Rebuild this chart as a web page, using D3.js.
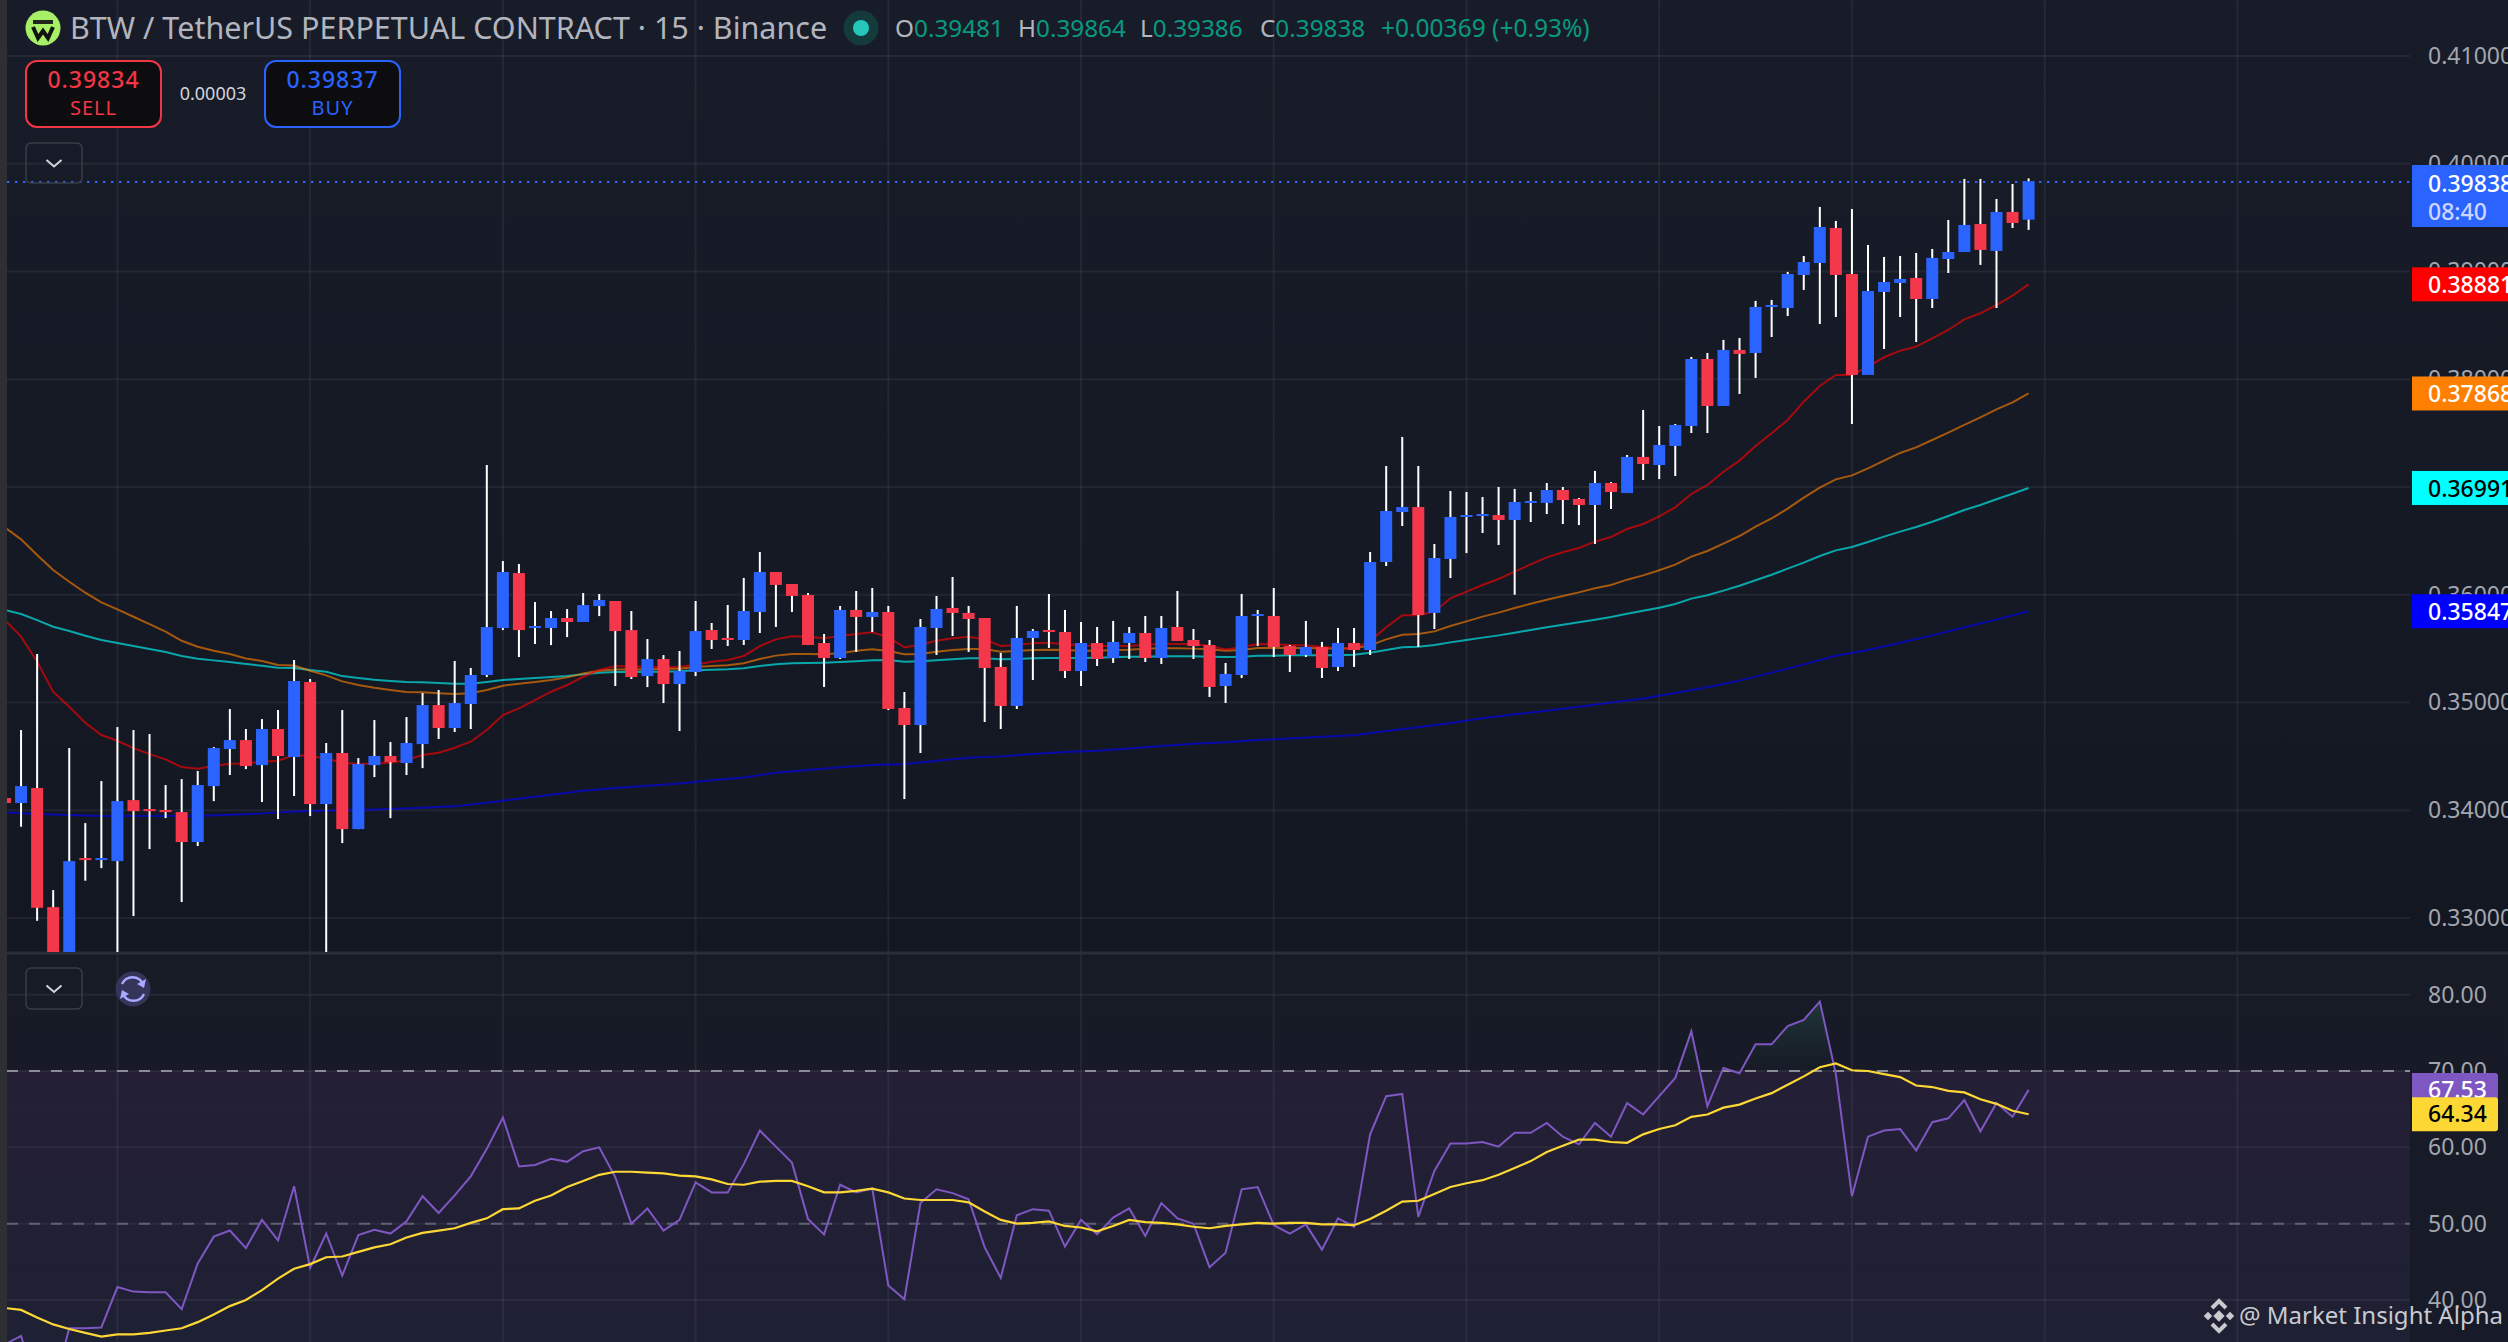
<!DOCTYPE html>
<html>
<head>
<meta charset="utf-8">
<title>BTW / TetherUS 15m</title>
<script src="https://cdn.jsdelivr.net/npm/d3@7"></script>
<style>
    html, body { margin: 0; padding: 0; background: #131722; overflow: hidden; }
    svg { display: block; font-family: "Noto Sans", sans-serif; }
</style>
</head>
<body>
<script>
// candles, oldest first
const opens = [.34113,.34067,.34206,.33101,.3260,.33556,.33538,.33528,.34094,.34011,.34002,.33983,.33705,.34224,.34568,.34651,.34419,.34754,.34494,.35190,.34057,.34531,.33825,.34419,.34503,.34438,.34614,.34976,.34763,.34986,.35255,.35691,.36201,.35691,.35691,.35784,.35747,.35895,.35942,.35672,.35245,.35403,.35171,.35283,.35673,.35599,.35580,.35840,.36211,.36100,.35998,.35552,.35413,.35859,.35794,.35840,.34949,.34791,.35692,.35877,.35831,.35784,.35330,.34968,.35599,.35673,.35654,.35292,.35552,.35413,.35552,.35645,.35413,.35701,.35580,.35534,.35153,.35255,.35803,.35803,.35524,.35441,.35515,.35330,.35552,.35487,.36304,.36768,.36814,.35831,.36332,.36722,.36731,.36740,.36694,.36852,.36852,.36972,.36889,.36833,.37037,.36944,.37279,.37204,.37381,.37566,.38188,.37752,.38272,.38244,.38671,.38661,.38968,.39079,.39404,.38977,.38040,.38810,.38894,.38940,.38745,.39116,.39181,.39441,.39191,.39553,.39481];
const closes = [.34067,.34224,.33095,.3250,.33528,.33538,.33556,.34085,.33992,.33992,.33983,.33705,.34234,.34577,.34651,.34410,.34754,.34503,.35199,.34057,.34531,.33825,.34429,.34503,.34447,.34624,.34976,.34763,.34995,.35255,.35700,.36211,.35672,.35710,.35784,.35747,.35904,.35951,.35663,.35236,.35403,.35171,.35292,.35663,.35580,.35580,.35849,.36211,.36091,.35989,.35534,.35413,.35859,.35794,.35840,.34940,.34791,.35701,.35868,.35831,.35775,.35320,.34968,.35599,.35664,.35654,.35292,.35552,.35404,.35562,.35645,.35413,.35692,.35571,.35524,.35144,.35265,.35803,.35821,.35515,.35441,.35515,.35320,.35552,.35487,.36304,.36777,.36814,.35812,.36341,.36722,.36740,.36749,.36694,.36861,.36870,.36972,.36879,.36833,.37037,.36954,.37279,.37214,.37390,.37576,.38188,.37752,.38272,.38235,.38671,.38689,.38977,.39088,.39413,.38968,.38040,.38819,.38903,.38931,.38745,.39126,.39181,.39432,.39200,.39553,.39450,.39838];
const highs = [.3415,.34744,.35450,.33259,.34577,.33881,.34271,.34772,.34744,.34707,.34234,.34289,.34364,.34586,.34939,.34754,.34846,.34930,.35394,.35218,.34624,.34930,.34484,.34837,.34633,.34865,.35088,.35116,.35385,.35320,.37204,.36313,.36285,.35932,.35849,.35867,.36016,.36007,.35942,.35849,.35589,.35440,.35478,.35942,.35738,.35905,.36156,.36397,.36211,.36100,.36016,.35636,.35896,.36035,.36063,.35896,.35097,.35775,.35989,.36165,.35896,.35784,.35460,.35896,.35682,.36007,.35859,.35747,.35701,.35757,.35701,.35803,.35803,.36035,.35682,.35580,.35367,.36007,.35859,.36063,.35534,.35757,.35562,.35692,.35692,.36397,.37195,.37464,.37195,.36471,.36963,.36954,.36907,.37000,.36982,.36954,.37037,.37000,.36898,.37149,.37046,.37297,.37715,.37566,.37585,.38207,.38244,.38365,.38383,.38727,.38736,.38996,.39144,.39599,.39469,.39580,.39246,.39135,.39144,.39172,.39209,.39478,.39859,.39859,.39673,.39812,.39864];
const lows = [.3400,.33847,.32974,.3230,.3240,.33346,.33463,.3240,.33018,.33640,.33927,.33148,.33668,.34085,.34327,.34382,.34076,.33918,.34132,.33946,.3240,.33695,.33825,.34308,.33927,.34327,.34391,.34661,.34726,.34754,.35236,.35672,.35422,.35543,.35533,.35607,.35747,.35802,.35153,.35218,.35143,.34995,.34735,.35245,.35497,.35524,.35534,.35645,.35701,.35840,.35534,.35144,.35404,.35469,.35654,.34930,.34104,.34531,.35441,.35617,.35469,.34819,.34754,.34940,.35209,.35506,.35227,.35153,.35339,.35367,.35404,.35376,.35357,.35571,.35404,.35051,.34995,.35227,.35524,.35422,.35283,.35422,.35227,.35292,.35330,.35441,.36267,.36638,.35515,.35682,.36155,.36387,.36573,.36462,.36000,.36675,.36749,.36657,.36647,.36471,.36796,.36944,.37065,.37074,.37102,.37501,.37501,.37752,.37863,.38012,.38392,.38587,.38829,.38513,.38578,.37585,.38281,.38281,.38578,.38346,.38661,.38986,.39181,.39061,.38661,.39404,.39386];

// moving averages, one value per bar
const emaRed = [.35765,.35611,.35379,.35100,.34961,.34812,.34698,.34645,.34577,.34521,.34472,.34401,.34385,.34410,.34432,.34435,.34450,.34460,.34512,.34503,.34481,.34441,.34429,.34435,.34441,.34466,.34512,.34534,.34580,.34636,.34744,.34884,.34945,.35023,.35100,.35162,.35239,.35301,.35338,.35332,.35332,.35326,.35332,.35350,.35379,.35395,.35432,.35524,.35586,.35614,.35611,.35596,.35617,.35636,.35651,.35605,.35512,.35534,.35574,.35596,.35611,.35586,.35524,.35534,.35549,.35555,.35540,.35531,.35524,.35524,.35524,.35537,.35543,.35543,.35543,.35524,.35493,.35512,.35543,.35540,.35534,.35528,.35518,.35503,.35503,.35570,.35698,.35809,.35809,.35843,.35967,.36029,.36090,.36146,.36214,.36282,.36347,.36394,.36434,.36493,.36536,.36610,.36657,.36728,.36811,.36935,.37019,.37142,.37245,.37381,.37498,.37622,.37792,.37937,.38040,.38040,.38117,.38204,.38265,.38303,.38380,.38457,.38556,.38612,.38689,.38776,.38881];
const emaOrange = [.36625,.36514,.36369,.36229,.36121,.36019,.35929,.35864,.35796,.35728,.35657,.35573,.35518,.35481,.35450,.35409,.35385,.35348,.35344,.35295,.35252,.35196,.35162,.35137,.35116,.35097,.35094,.35085,.35078,.35085,.35116,.35156,.35174,.35190,.35208,.35233,.35270,.35295,.35307,.35307,.35307,.35313,.35313,.35330,.35339,.35345,.35364,.35404,.35435,.35450,.35450,.35447,.35456,.35481,.35494,.35478,.35447,.35450,.35472,.35487,.35497,.35497,.35472,.35478,.35487,.35490,.35487,.35481,.35481,.35487,.35490,.35500,.35503,.35503,.35500,.35494,.35481,.35487,.35506,.35506,.35506,.35506,.35503,.35500,.35503,.35530,.35586,.35629,.35636,.35660,.35710,.35753,.35797,.35834,.35877,.35917,.35954,.35988,.36022,.36060,.36090,.36140,.36180,.36227,.36279,.36354,.36406,.36474,.36545,.36632,.36709,.36799,.36901,.36994,.37071,.37108,.37173,.37245,.37316,.37368,.37436,.37504,.37576,.37647,.37721,.37786,.37868];
const emaTeal = [.35858,.35821,.35765,.35703,.35663,.35620,.35580,.35552,.35524,.35496,.35468,.35431,.35406,.35391,.35375,.35357,.35341,.35323,.35320,.35301,.35286,.35245,.35227,.35211,.35199,.35190,.35187,.35180,.35174,.35174,.35190,.35208,.35218,.35227,.35236,.35245,.35261,.35276,.35283,.35283,.35286,.35286,.35289,.35300,.35305,.35308,.35317,.35339,.35354,.35364,.35367,.35370,.35376,.35382,.35391,.35394,.35379,.35382,.35391,.35401,.35410,.35410,.35401,.35404,.35410,.35413,.35413,.35413,.35416,.35419,.35425,.35425,.35429,.35429,.35429,.35425,.35422,.35425,.35435,.35435,.35438,.35438,.35438,.35438,.35444,.35462,.35487,.35512,.35518,.35534,.35558,.35580,.35602,.35623,.35648,.35673,.35698,.35722,.35744,.35769,.35793,.35824,.35852,.35880,.35914,.35964,.35995,.36038,.36084,.36134,.36186,.36242,.36298,.36360,.36412,.36443,.36490,.36539,.36586,.36629,.36678,.36731,.36787,.36833,.36886,.36938,.36991];
// slow average read every second bar
const emaNavyBars = d3.range(0, 127, 2);
const emaNavy = [.33980,.33965,.33955,.33946,.33946,.33946,.33946,.33958,.33971,.33989,.33995,.34002,.34011,.34023,.34036,.34070,.34107,.34144,.34181,.34206,.34228,.34249,.34278,.34305,.34349,.34373,.34398,.34420,.34429,.34460,.34488,.34500,.34522,.34541,.34553,.34572,.34596,.34618,.34630,.34652,.34667,.34683,.34695,.34735,.34770,.34810,.34853,.34890,.34924,.34961,.35001,.35038,.35088,.35141,.35203,.35277,.35354,.35434,.35487,.35555,.35623,.35698,.35769,.35847];

const rsiValues = [34.2,35.3,28.4,28.3,36.3,36.3,36.4,41.7,41.1,41.0,41.0,38.8,44.8,48.3,49.1,46.8,50.5,47.8,54.9,44.2,48.7,43.2,48.5,49.2,48.7,50.3,53.6,51.4,53.7,56.2,59.8,63.9,57.5,57.7,58.5,58.1,59.5,60.0,56.1,50.0,52.0,49.1,50.5,55.4,54.1,54.1,57.8,62.2,60.1,58.0,50.6,48.6,55.1,54.1,54.6,41.9,40.1,52.7,54.5,54.0,53.2,46.9,42.9,51.1,51.9,51.7,47.0,50.5,48.6,50.8,52.0,48.4,52.7,50.7,50.0,44.3,46.2,54.5,54.8,49.8,48.7,49.9,46.6,50.7,49.6,61.7,66.7,67.0,50.9,56.9,60.5,60.5,60.7,60.1,61.9,61.9,63.2,61.4,60.4,63.2,61.4,65.8,64.3,66.7,69.1,75.2,65.4,70.4,69.7,73.5,73.5,75.9,76.7,79.1,69.6,53.6,61.4,62.2,62.4,59.6,63.3,63.8,66.2,62.1,65.8,64.0,67.53];
const rsiMa = [38.95,38.7,37.7,36.8,36.2,35.7,35.2,35.5,35.5,35.7,36.0,36.3,37.1,38.1,39.2,40.0,41.3,42.8,44.1,44.7,45.6,45.7,46.3,46.9,47.3,48.2,48.8,49.1,49.4,50.1,50.7,51.9,52.0,53.0,53.7,54.8,55.6,56.4,56.8,56.8,56.7,56.6,56.3,56.2,55.8,55.2,55.1,55.5,55.6,55.6,54.9,54.1,54.1,54.3,54.6,54.1,53.3,53.1,53.1,53.1,52.8,51.6,50.5,50.0,50.1,50.3,49.7,49.5,49.0,49.7,50.5,50.2,50.1,49.9,49.6,49.4,49.7,49.9,50.1,50.0,50.1,50.1,49.9,49.9,49.8,50.6,51.7,52.9,53.0,53.9,54.8,55.3,55.7,56.4,57.3,58.2,59.4,60.2,61.0,61.0,60.7,60.6,61.7,62.4,62.9,64.0,64.3,65.2,65.6,66.4,67.1,68.2,69.3,70.5,71.0,70.1,70.0,69.6,69.2,68.1,67.9,67.4,67.2,66.3,65.7,64.8,64.34];

const priceTicks = [0.33, 0.34, 0.35, 0.36, 0.37, 0.38, 0.39, 0.40, 0.41];
const rsiTicks = [40, 50, 60, 70, 80];
const gridBars = d3.range(7, 140, 12);

const priceTags = [
    { value: 0.38881, text: '0.38881', bg: '#ff0000', fg: '#ffffff' },
    { value: 0.37868, text: '0.37868', bg: '#ff8000', fg: '#ffffff' },
    { value: 0.36991, text: '0.36991', bg: '#00ffff', fg: '#000000' },
    { value: 0.35847, text: '0.35847', bg: '#0000ff', fg: '#ffffff' }
];
const legendOHLC = [
    { key: 'O', value: '0.39481', x: 895 },
    { key: 'H', value: '0.39864', x: 1018 },
    { key: 'L', value: '0.39386', x: 1140 },
    { key: 'C', value: '0.39838', x: 1260 }
];

const W = 2508, H = 1342;
const plotLeft = 7, plotRight = 2410, paneSplit = 953;
const bull = '#2b63ff', bear = '#f5374b';

const x = d3.scaleLinear().domain([0, 126]).range([5, 2028.6]);
const y = d3.scaleLinear().domain([0.33, 0.41]).range([918, 56]);
const yRsi = d3.scaleLinear().domain([40, 80]).range([1300, 994.7]);

const svg = d3.select('body').append('svg').attr('width', W).attr('height', H);
const defs = svg.append('defs');

function vGradient(id, stops, box) {
    const g = defs.append('linearGradient').attr('id', id)
        .attr('x1', 0).attr('x2', 0);
    if (box) {
        g.attr('gradientUnits', 'userSpaceOnUse').attr('y1', box[0]).attr('y2', box[1]);
    } else {
        g.attr('y1', 0).attr('y2', 1);
    }
    stops.forEach(s => g.append('stop').attr('offset', s[0]).attr('stop-color', s[1]).attr('stop-opacity', s[2]));
}
vGradient('mainBg', [[0, '#181c28', 1], [1, '#131722', 1]]);
vGradient('rsiBg', [[0, '#171b26', 1], [1, '#171a28', 1]]);
vGradient('bandBg', [[0, '#241f36', 1], [1, '#1e2033', 1]]);
// overbought tint fades out towards the 70 line
vGradient('obFill', [[0, '#2a5a50', 0.55], [1, '#1f3a3a', 0.02]], [yRsi(80), yRsi(70)]);

defs.append('clipPath').attr('id', 'mainClip').append('rect')
    .attr('x', plotLeft).attr('y', 0).attr('width', plotRight - plotLeft).attr('height', paneSplit - 1);
defs.append('clipPath').attr('id', 'rsiClip').append('rect')
    .attr('x', plotLeft).attr('y', paneSplit + 1).attr('width', plotRight - plotLeft).attr('height', H - paneSplit);
defs.append('clipPath').attr('id', 'obClip').append('rect')
    .attr('x', plotLeft).attr('y', paneSplit).attr('width', plotRight - plotLeft).attr('height', yRsi(70) - paneSplit);

// backgrounds
svg.append('rect').attr('width', W).attr('height', paneSplit).attr('fill', 'url(#mainBg)');
svg.append('rect').attr('y', paneSplit).attr('width', W).attr('height', H - paneSplit).attr('fill', 'url(#rsiBg)');
svg.append('rect').attr('x', plotLeft).attr('y', yRsi(70)).attr('width', plotRight - plotLeft)
    .attr('height', H - yRsi(70)).attr('fill', 'url(#bandBg)');
svg.append('rect').attr('width', plotLeft).attr('height', H).attr('fill', '#2e2f33');

// grid
const gridColor = 'rgba(120,123,134,0.14)';
const grid = svg.append('g').attr('stroke', gridColor).attr('stroke-width', 2);
grid.selectAll('.gv').data(gridBars).join('line')
    .attr('x1', d => x(d)).attr('x2', d => x(d)).attr('y1', 0).attr('y2', H);
grid.selectAll('.gp').data(priceTicks).join('line')
    .attr('x1', plotLeft).attr('x2', plotRight).attr('y1', d => y(d)).attr('y2', d => y(d));
grid.selectAll('.gr').data(rsiTicks).join('line')
    .attr('x1', plotLeft).attr('x2', plotRight).attr('y1', d => yRsi(d)).attr('y2', d => yRsi(d));
svg.append('line').attr('x1', plotLeft).attr('x2', W).attr('y1', paneSplit).attr('y2', paneSplit)
    .attr('stroke', '#2a2e39').attr('stroke-width', 3);

// moving averages sit under the candles
const main = svg.append('g').attr('clip-path', 'url(#mainClip)');
const priceLine = d3.line().x(d => x(d[0])).y(d => y(d[1]));
const emaSeries = [
    { bars: emaNavyBars, values: emaNavy, color: '#0000ff' },
    { bars: d3.range(127), values: emaTeal, color: '#00ffff' },
    { bars: d3.range(127), values: emaOrange, color: '#ff8000' },
    { bars: d3.range(127), values: emaRed, color: '#ff0000' }
];
emaSeries.forEach(s => {
    main.append('path')
        .attr('d', priceLine(s.bars.map((b, k) => [b, s.values[k]])))
        .attr('fill', 'none').attr('stroke', s.color)
        .attr('stroke-opacity', 0.62).attr('stroke-width', 2);
});

// candles
const bars = d3.range(opens.length);
main.append('g').selectAll('rect').data(bars).join('rect')
    .attr('x', i => x(i) - 1).attr('width', 2)
    .attr('y', i => y(highs[i])).attr('height', i => y(lows[i]) - y(highs[i]))
    .attr('fill', '#ffffff');
main.append('g').selectAll('rect').data(bars).join('rect')
    .attr('x', i => x(i) - 6).attr('width', 12)
    .attr('y', i => y(Math.max(opens[i], closes[i])))
    .attr('height', i => Math.max(2, Math.abs(y(opens[i]) - y(closes[i]))))
    .attr('fill', i => closes[i] >= opens[i] ? bull : bear);

// last price line
svg.append('line').attr('x1', plotLeft).attr('x2', plotRight)
    .attr('y1', y(0.39831)).attr('y2', y(0.39831))
    .attr('stroke', bull).attr('stroke-width', 2).attr('stroke-dasharray', '2.5,5.5');

// rsi pane
const rsiPane = svg.append('g').attr('clip-path', 'url(#rsiClip)');
const rsiLine = d3.line().x((d, i) => x(i)).y(d => yRsi(d));
const rsiArea = d3.area().x((d, i) => x(i)).y0(yRsi(70)).y1(d => yRsi(d));
rsiPane.append('path').datum(rsiValues).attr('d', rsiArea)
    .attr('clip-path', 'url(#obClip)').attr('fill', 'url(#obFill)');
[{ v: 70, c: '#8b8c96' }, { v: 50, c: '#5f6072' }].forEach(l => {
    rsiPane.append('line').attr('x1', plotLeft).attr('x2', plotRight)
        .attr('y1', yRsi(l.v)).attr('y2', yRsi(l.v))
        .attr('stroke', l.c).attr('stroke-width', 2).attr('stroke-dasharray', '11,11');
});
rsiPane.append('path').datum(rsiValues).attr('d', rsiLine)
    .attr('fill', 'none').attr('stroke', '#7e57c2').attr('stroke-width', 2);
rsiPane.append('path').datum(rsiMa).attr('d', rsiLine)
    .attr('fill', 'none').attr('stroke', '#fdd835').attr('stroke-width', 2.2);

// axes
function styleAxis(g) {
    g.select('.domain').remove();
    g.selectAll('line').remove();
    g.selectAll('text').attr('fill', '#a3a6af').attr('x', 0)
        .style('font-family', '"Noto Sans", sans-serif').style('font-size', '23px');
}
svg.append('g').attr('transform', 'translate(2428,0)')
    .call(d3.axisRight(y).tickValues(priceTicks).tickFormat(d3.format('.5f')).tickSize(0))
    .call(styleAxis);
svg.append('g').attr('transform', 'translate(2428,0)')
    .call(d3.axisRight(yRsi).tickValues(rsiTicks).tickFormat(d3.format('.2f')).tickSize(0))
    .call(styleAxis);

// axis tags
const tagG = svg.append('g').style('font-size', '23px').style('font-weight', 500);
tagG.append('rect').attr('x', 2412).attr('y', 165).attr('width', 96).attr('height', 62).attr('fill', bull);
tagG.append('text').attr('x', 2428).attr('y', 192).attr('fill', '#fff').text('0.39838');
tagG.append('text').attr('x', 2428).attr('y', 220).attr('fill', '#cdd6ff').text('08:40');
priceTags.forEach(t => {
    const cy = y(t.value);
    tagG.append('rect').attr('x', 2412).attr('y', cy - 17).attr('width', 96).attr('height', 34).attr('fill', t.bg);
    tagG.append('text').attr('x', 2428).attr('y', cy + 9).attr('fill', t.fg).text(t.text);
});
function rsiTag(value, text, bg, fg) {
    const cy = yRsi(value);
    tagG.append('path')
        .attr('d', `M2412,${cy - 17}H2495a3,3 0 0 1 3,3V${cy + 14}a3,3 0 0 1 -3,3H2412Z`)
        .attr('fill', bg);
    tagG.append('text').attr('x', 2428).attr('y', cy + 8).attr('fill', fg).text(text);
}
rsiTag(67.53, '67.53', '#7e57c2', '#ffffff');
rsiTag(64.34, '64.34', '#fdd835', '#000000');

// header
const head = svg.append('g');
head.append('circle').attr('cx', 43).attr('cy', 28).attr('r', 17.5).attr('fill', '#a6ef67');
head.append('rect').attr('x', 33).attr('y', 20).attr('width', 20).attr('height', 4).attr('fill', '#20261c');
head.append('path').attr('d', 'M33,27 L38,38 L43,31 L48,38 L53,27')
    .attr('fill', 'none').attr('stroke', '#10130e').attr('stroke-width', 4);
head.append('text').attr('x', 70).attr('y', 39).attr('fill', '#b2b5be')
    .style('font-size', '30.5px').text('BTW / TetherUS PERPETUAL CONTRACT · 15 · Binance');
head.append('circle').attr('cx', 861).attr('cy', 28).attr('r', 17.5).attr('fill', '#143a3c');
head.append('circle').attr('cx', 861).attr('cy', 28).attr('r', 8).attr('fill', '#26c6ba');
legendOHLC.forEach(d => {
    const t = head.append('text').attr('x', d.x).attr('y', 37).style('font-size', '24.3px');
    t.append('tspan').attr('fill', '#b2b5be').text(d.key);
    t.append('tspan').attr('fill', '#089981').text(d.value);
});
head.append('text').attr('x', 1381).attr('y', 37).attr('fill', '#089981')
    .style('font-size', '24.5px').text('+0.00369 (+0.93%)');

function tradeButton(left, color, price, label) {
    head.append('rect').attr('x', left).attr('y', 61).attr('width', 135).attr('height', 66).attr('rx', 11)
        .attr('fill', '#0d0d0f').attr('stroke', color).attr('stroke-width', 2);
    head.append('text').attr('x', left + 67.5).attr('y', 88).attr('text-anchor', 'middle').attr('fill', color)
        .style('font-size', '23px').style('font-weight', 500).style('letter-spacing', '1px').text(price);
    head.append('text').attr('x', left + 67.5).attr('y', 115).attr('text-anchor', 'middle').attr('fill', color)
        .style('font-size', '20px').style('letter-spacing', '1px').text(label);
}
tradeButton(26, '#f23645', '0.39834', 'SELL');
tradeButton(265, '#2962ff', '0.39837', 'BUY');
head.append('text').attr('x', 213).attr('y', 100).attr('text-anchor', 'middle').attr('fill', '#d1d4dc')
    .style('font-size', '18px').text('0.00003');

function chevronButton(top, h) {
    head.append('rect').attr('x', 26).attr('y', top).attr('width', 56).attr('height', h).attr('rx', 5)
        .attr('fill', 'none').attr('stroke', '#3a3d47').attr('stroke-width', 1.5);
    const c = top + h / 2;
    head.append('path').attr('d', `M46.5,${c - 3} L54,${c + 3.5} L61.5,${c - 3}`)
        .attr('fill', 'none').attr('stroke', '#d1d4dc').attr('stroke-width', 2);
}
chevronButton(143, 40);
chevronButton(968, 41);

// refresh button on the rsi pane
head.append('circle').attr('cx', 133).attr('cy', 989).attr('r', 17.5).attr('fill', '#35345a');
head.append('path').attr('d', 'M122,984 A11.5,11.5 0 0 1 143,984 M144,994 A11.5,11.5 0 0 1 123,994')
    .attr('fill', 'none').attr('stroke', '#a9a9ff').attr('stroke-width', 2.4);
head.append('path').attr('d', 'M146,979 L144,988 L137,984 Z M120,999 L122,990 L129,994 Z').attr('fill', '#a9a9ff');

// watermark
const mark = svg.append('g').attr('fill', '#c9cad0');
const markX = 2219, markY = 1316;
[[0, 0, 4], [-11, 0, 3], [11, 0, 3]].forEach(p => {
    mark.append('rect').attr('x', -p[2]).attr('y', -p[2]).attr('width', p[2] * 2).attr('height', p[2] * 2)
        .attr('transform', `translate(${markX + p[0]},${markY + p[1]}) rotate(45)`);
});
mark.append('path').attr('d', `M${markX - 7},${markY - 8} L${markX},${markY - 15} L${markX + 7},${markY - 8} M${markX - 7},${markY + 8} L${markX},${markY + 15} L${markX + 7},${markY + 8}`)
    .attr('fill', 'none').attr('stroke', '#c9cad0').attr('stroke-width', 4);
mark.append('text').attr('x', 2239).attr('y', 1324).style('font-size', '24px').text('@ Market Insight Alpha');
</script>
</body>
</html>
